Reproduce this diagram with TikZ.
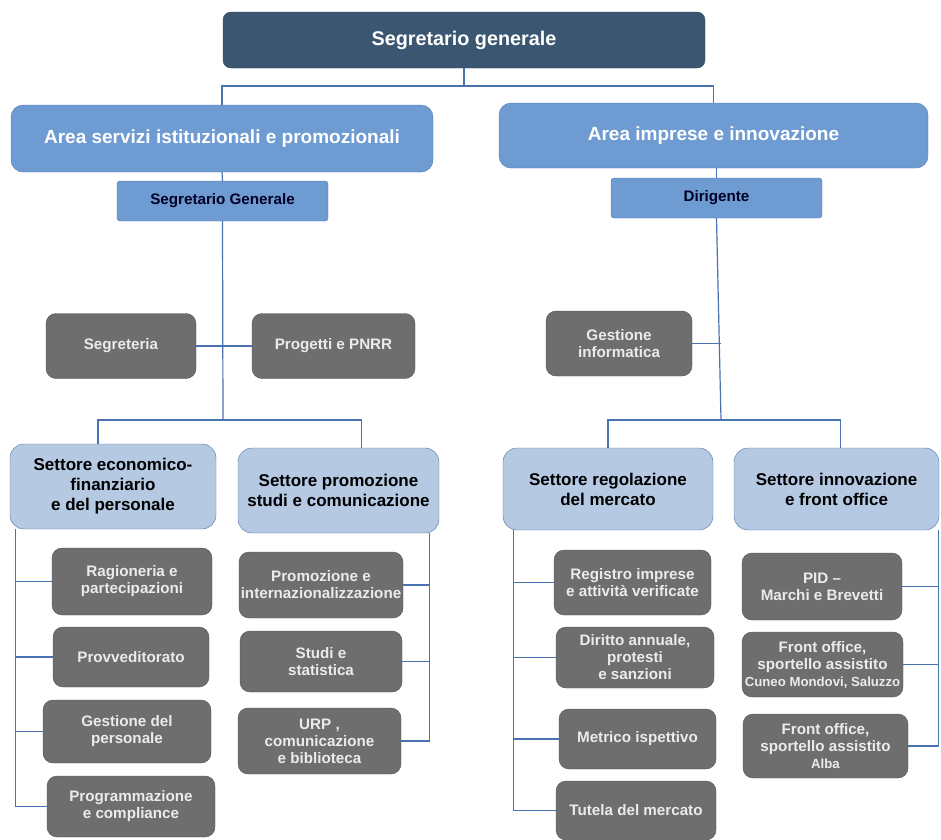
\documentclass[tikz,border=0pt]{standalone}
\usepackage{fontspec}
\setmainfont{Liberation Sans}
\usetikzlibrary{positioning,calc}

\definecolor{topblue}{HTML}{3A5670}
\definecolor{areablue}{HTML}{6E9BD2}
\definecolor{areaedge}{HTML}{4F7AB8}
\definecolor{setblue}{HTML}{B5C9E3}
\definecolor{setedge}{HTML}{4E72A6}
\definecolor{unitgrey}{HTML}{6E6E6E}
\definecolor{unitedge}{HTML}{4A5563}
\definecolor{wire}{HTML}{4A72B0}

\tikzset{
    topbox/.style={draw=topblue!80!black, fill=topblue, rounded corners=8pt, text=white,
        font=\fontsize{19.8}{22}\selectfont\bfseries, align=center, inner sep=0pt},
    areabox/.style={draw=areaedge, fill=areablue, rounded corners=12pt, text=white,
        font=\fontsize{19}{22}\selectfont\bfseries, align=center, inner sep=0pt},
    headbox/.style={draw=areaedge, fill=areablue, rounded corners=3pt, text=black!85!blue,
        font=\fontsize{15.2}{17}\selectfont\bfseries, align=center, inner sep=0pt},
    setbox/.style={draw=setedge, fill=setblue, rounded corners=14pt, text=black,
        font=\fontsize{17}{20}\selectfont\bfseries, align=center, inner sep=0pt},
    unitbox/.style={draw=unitedge, fill=unitgrey, rounded corners=10pt, text=white!92!black,
        font=\fontsize{15.2}{17}\selectfont\bfseries, align=center, inner sep=0pt},
    wire/.style={draw=wire, line width=1.2pt},
}

\begin{document}
\begin{tikzpicture}[x=1pt, y=-1pt]
    \useasboundingbox (0,0) rectangle (941,839);

    % vertice
    \node[topbox, minimum width=482pt, minimum height=56pt] (top) at (464,40) {Segretario generale};

    % aree
    \node[areabox, minimum width=422pt, minimum height=67pt] (areaL) at (222,138.5) {Area servizi istituzionali e promozionali};
    \node[areabox, minimum width=429pt, minimum height=65pt] (areaR) at (713.5,135.5) {Area imprese e innovazione};
    \node[headbox, minimum width=211pt, minimum height=40pt] (sg) at (222.5,201) {Segretario Generale};
    \node[headbox, minimum width=211pt, minimum height=40pt] (dir) at (716.5,198) {Dirigente};

    % staff
    \node[unitbox, minimum width=150pt, minimum height=65pt] (segreteria) at (121,346) {Segreteria};
    \node[unitbox, minimum width=163pt, minimum height=65pt] (progetti) at (333.5,346) {Progetti e PNRR};
    \node[unitbox, minimum width=146pt, minimum height=65pt] (gestinf) at (619,343.5) {Gestione\\informatica};

    % settori
    \node[setbox, minimum width=206pt, minimum height=85pt] (setEco) at (113,486.5) {Settore economico-\\finanziario\\e del personale};
    \node[setbox, minimum width=201pt, minimum height=85pt] (setPro) at (338.5,490.5) {Settore promozione\\studi e comunicazione};
    \node[setbox, minimum width=210pt, minimum height=82pt] (setReg) at (608,489) {Settore regolazione\\del mercato};
    \node[setbox, minimum width=205pt, minimum height=82pt] (setInn) at (836.5,489) {Settore innovazione\\e front office};

    % uffici
    \node[unitbox, minimum width=160pt, minimum height=67pt] (ragioneria) at (132,581.5) {Ragioneria e\\partecipazioni};
    \node[unitbox, minimum width=156pt, minimum height=60pt] (provv) at (131,657) {Provveditorato};
    \node[unitbox, minimum width=168pt, minimum height=63pt] (gestpers) at (127,731.5) {Gestione del\\personale};
    \node[unitbox, minimum width=168pt, minimum height=61pt] (program) at (131,806.5) {Programmazione\\e compliance};

    \node[unitbox, minimum width=164pt, minimum height=66pt] (promoz) at (321,585) {Promozione e\\internazionalizzazione};
    \node[unitbox, minimum width=162pt, minimum height=61pt] (studi) at (321,661.5) {Studi e\\statistica};
    \node[unitbox, minimum width=163pt, minimum height=66pt] (urp) at (319.5,741) {URP ,\\comunicazione\\e biblioteca};

    \node[unitbox, minimum width=157pt, minimum height=65pt] (registro) at (632.5,582.5) {Registro imprese\\e attività verificate};
    \node[unitbox, minimum width=158pt, minimum height=61pt] (diritto) at (635,657.5) {Diritto annuale,\\protesti\\e sanzioni};
    \node[unitbox, minimum width=157pt, minimum height=60pt] (metrico) at (637.5,739) {Metrico ispettivo};
    \node[unitbox, minimum width=160pt, minimum height=59pt] (tutela) at (636,810.5) {Tutela del mercato};

    \node[unitbox, minimum width=160pt, minimum height=67pt] (pid) at (822,586.5) {PID --\\Marchi e Brevetti};
    \node[unitbox, minimum width=161pt, minimum height=65pt] (front1) at (822.5,664.5) {Front office,\\sportello assistito\\{\fontsize{13.2}{15}\selectfont Cuneo Mondovi, Saluzzo}};
    \node[unitbox, minimum width=165pt, minimum height=64pt] (front2) at (825.5,746) {Front office,\\sportello assistito\\{\fontsize{13.2}{15}\selectfont Alba}};

    % punti di snodo
    \coordinate (j0) at (464,86);
    \coordinate (j1) at (223,420);
    \coordinate (j2) at (721,420);
    \coordinate (ecoBus) at ([xshift=6pt]setEco.south west);
    \coordinate (proBus) at ([xshift=-10pt]setPro.south east);
    \coordinate (regBus) at ([xshift=11pt]setReg.south west);
    \coordinate (innBus) at ([xshift=-1pt]setInn.south east);

    % collegamenti
    \draw[wire] (top) -- (j0);
    \draw[wire] (areaL.north) |- (j0) -| (areaR.north);
    \draw[wire] (areaL.south) -- (sg.north);
    \draw[wire] (dir.north) -- (dir.north |- areaR.south);
    \draw[wire] (sg.south) -- (j1);
    \draw[wire] (segreteria.east) -- (progetti.west);
    \draw[wire] (dir.south) -- (j2);
    \draw[wire] (gestinf.east) -- (gestinf.east -| j2);
    \draw[wire] ([xshift=-15pt]setEco.north) |- (j1) -| ([xshift=23pt]setPro.north);
    \draw[wire] (setReg.north) |- (j2) -| ([xshift=4pt]setInn.north);

    \draw[wire] (ecoBus) |- (program.west);
    \foreach \u in {ragioneria,provv,gestpers}
        \draw[wire] (\u.west) -- (\u.west -| ecoBus);
    \draw[wire] (proBus) |- (urp.east);
    \foreach \u in {promoz,studi}
        \draw[wire] (\u.east) -- (\u.east -| proBus);
    \draw[wire] (regBus) |- (tutela.west);
    \foreach \u in {registro,diritto,metrico}
        \draw[wire] (\u.west) -- (\u.west -| regBus);
    \draw[wire] (innBus) |- (front2.east);
    \foreach \u in {pid,front1}
        \draw[wire] (\u.east) -- (\u.east -| innBus);
\end{tikzpicture}
\end{document}
